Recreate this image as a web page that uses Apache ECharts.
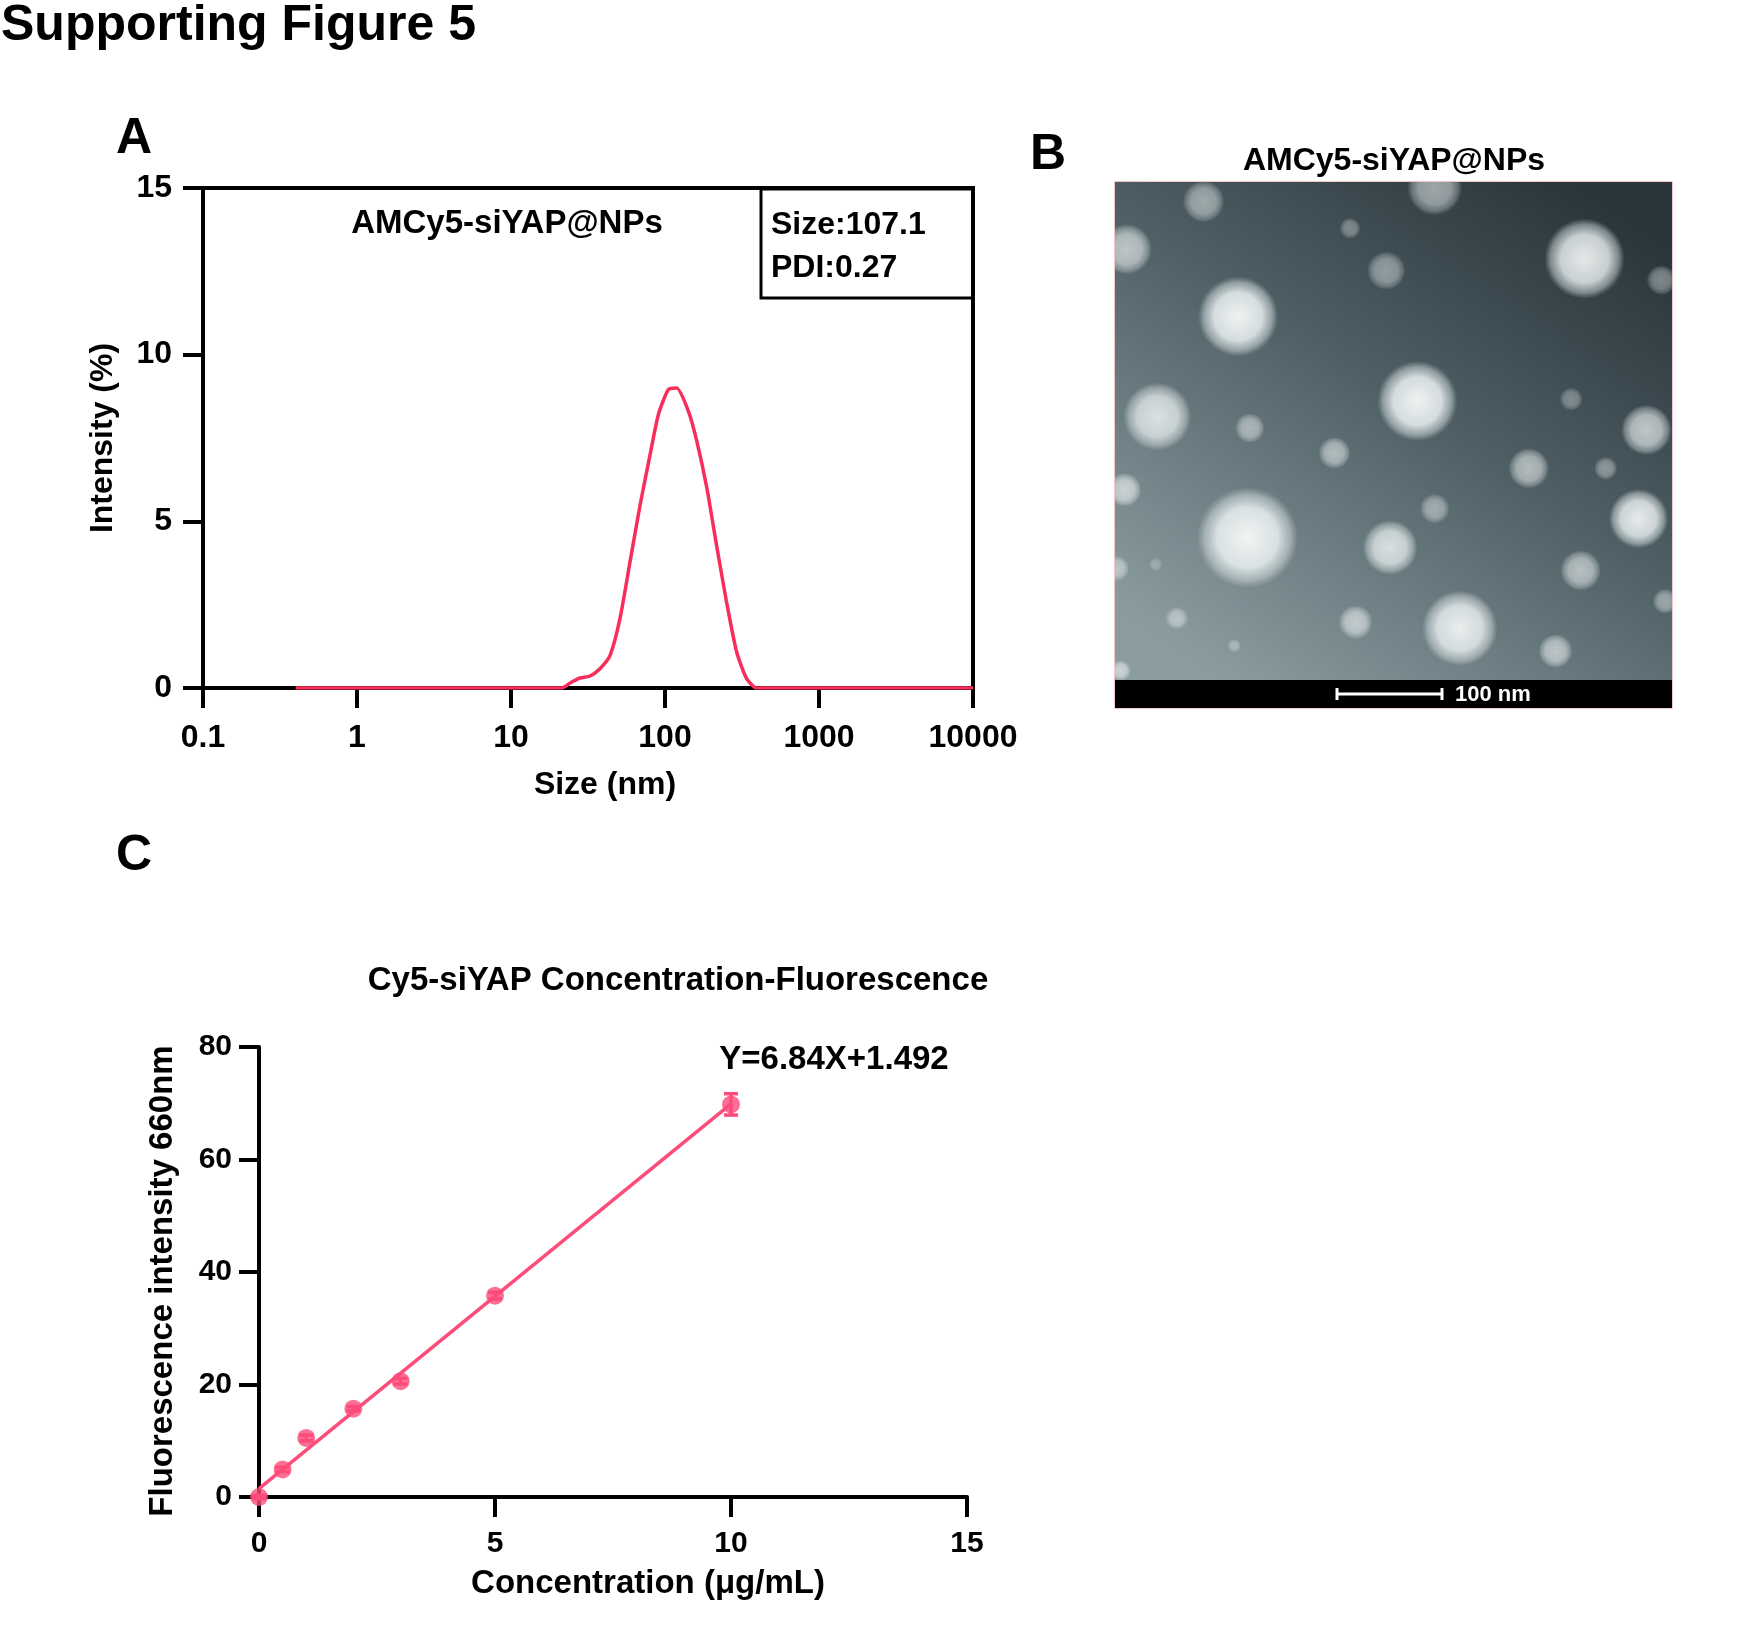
<!DOCTYPE html>
<html>
<head>
<meta charset="utf-8">
<script src="https://cdn.jsdelivr.net/npm/echarts@6/dist/echarts.min.js"></script>
<style>
  html, body { margin: 0; padding: 0; background: #fff; }
  #fig { width: 1757px; height: 1643px; }
</style>
</head>
<body>
<div id="fig"></div>
<script>
// Panel A: DLS size distribution
const sizeNm = [0.4, 1, 5, 10, 21.4, 24.8, 28.1, 32.6, 37.8, 44.0, 51.0, 59.3, 68.9, 80.0, 90.5, 105, 119, 142, 161, 187, 216, 251, 292, 339, 394, 1000, 10000];
const intensity = [0, 0, 0, 0, 0, 0.18, 0.3, 0.36, 0.58, 0.98, 2.08, 3.79, 5.49, 7.0, 8.2, 8.95, 9.0, 8.3, 7.4, 6.0, 4.29, 2.58, 1.08, 0.28, 0, 0, 0];
const sizeTickLabels = ['0.1', '1', '10', '100', '1000', '10000'];

// Panel C: standard curve
const conc = [0, 0.5, 1, 2, 3, 5, 10];
const fluor = [0, 4.9, 10.5, 15.7, 20.6, 35.8, 69.8];
const fluorSd = [0.3, 0.4, 0.5, 0.4, 0.5, 0.6, 1.9];
const fitX = [0, 10];
const fitY = [1.49, 69.89];

// Panel B: particles in the micrograph, [x %, y %, diameter px, brightness]
const particles = [
  [15.9, 3.9, 38, 0.5], [57.4, 1.2, 50, 0.55], [2.1, 13.5, 46, 0.65], [42.2, 9.3, 19, 0.35],
  [48.7, 17.8, 35, 0.45], [22.1, 27.0, 73, 0.95], [84.3, 15.4, 73, 0.9], [98.1, 19.7, 27, 0.4],
  [54.3, 44.0, 73, 0.95], [7.6, 47.1, 62, 0.8], [24.2, 49.4, 27, 0.5], [39.4, 54.4, 29, 0.55],
  [81.9, 43.6, 21, 0.35], [95.4, 49.8, 46, 0.7], [74.3, 57.5, 37, 0.6], [88.1, 57.5, 21, 0.4],
  [1.7, 61.8, 31, 0.65], [57.4, 65.6, 27, 0.45], [23.8, 71.4, 92, 0.95], [49.4, 73.4, 50, 0.8],
  [94.0, 67.6, 54, 0.9], [83.6, 78.0, 37, 0.6], [0.3, 77.6, 23, 0.5], [11.1, 87.6, 21, 0.45],
  [43.2, 88.4, 31, 0.6], [61.9, 89.6, 69, 0.9], [79.1, 94.2, 31, 0.6], [21.4, 93.1, 12, 0.35],
  [1.0, 98.1, 19, 0.6], [98.8, 84.2, 23, 0.45], [7.3, 76.8, 12, 0.25]
];

const FONT = '"Liberation Sans", Arial, sans-serif';
const RED_A = '#fa2d5a';
const RED_C = '#fc4c7a';

const chart = echarts.init(document.getElementById('fig'));

function boldText(text, x, y, size, align) {
  return {
    type: 'text', x: x, y: y,
    style: {
      text: text, font: 'bold ' + size + 'px ' + FONT, fill: '#000',
      textAlign: align || 'left', textVerticalAlign: 'middle'
    }
  };
}

const axisBase = {
  axisLine: { lineStyle: { color: '#000', width: 4 } },
  axisTick: { inside: false, length: 20, lineStyle: { color: '#000', width: 4 } },
  splitLine: { show: false },
  nameTextStyle: { color: '#000', fontSize: 32, fontWeight: 'bold', fontFamily: FONT }
};

const option = {
  animation: false,
  backgroundColor: '#fff',
  textStyle: { fontFamily: FONT },
  grid: [
    { left: 203, top: 188, width: 770, height: 500, show: true, borderColor: '#000', borderWidth: 4, backgroundColor: 'transparent' },
    { left: 259, top: 1047, width: 708, height: 450 },
    { left: 1115, top: 182, width: 557, height: 498 }
  ],
  xAxis: [
    Object.assign({}, axisBase, {
      gridIndex: 0, type: 'log', logBase: 10, min: 0.1, max: 10000,
      name: 'Size (nm)', nameLocation: 'middle', nameGap: 81,
      nameTextStyle: Object.assign({}, axisBase.nameTextStyle, { padding: [0, 0, 0, 34] }),
      axisLabel: {
        color: '#000', fontSize: 32, fontWeight: 'bold', margin: 34,
        formatter: (v, i) => sizeTickLabels[i] !== undefined ? sizeTickLabels[i] : String(v)
      }
    }),
    Object.assign({}, axisBase, {
      gridIndex: 1, type: 'value', min: 0, max: 15, interval: 5,
      name: 'Concentration (μg/mL)', nameLocation: 'middle', nameGap: 70,
      nameTextStyle: Object.assign({}, axisBase.nameTextStyle, { fontSize: 33, padding: [0, 0, 0, 70] }),
      axisLabel: { color: '#000', fontSize: 30, fontWeight: 'bold', margin: 32 }
    }),
    { gridIndex: 2, type: 'value', min: 0, max: 100, show: false }
  ],
  yAxis: [
    Object.assign({}, axisBase, {
      gridIndex: 0, type: 'value', min: 0, max: 15, interval: 5,
      name: 'Intensity (%)', nameLocation: 'middle', nameGap: 84, nameRotate: 90,
      axisLabel: { color: '#000', fontSize: 32, fontWeight: 'bold', margin: 31 }
    }),
    Object.assign({}, axisBase, {
      gridIndex: 1, type: 'value', min: 0, max: 80, interval: 20,
      name: 'Fluorescence intensity 660nm', nameLocation: 'middle', nameGap: 80, nameRotate: 90,
      nameTextStyle: Object.assign({}, axisBase.nameTextStyle, { fontSize: 33, padding: [0, 18, 0, 0] }),
      axisLabel: { color: '#000', fontSize: 30, fontWeight: 'bold', margin: 27 }
    }),
    { gridIndex: 2, type: 'value', min: 0, max: 100, inverse: true, show: false }
  ],
  series: [
    {
      name: 'DLS', type: 'line', xAxisIndex: 0, yAxisIndex: 0,
      data: sizeNm.map((s, i) => [s, intensity[i]]),
      showSymbol: false, smooth: 0.2, z: 5,
      lineStyle: { color: RED_A, width: 3.5 }
    },
    {
      name: 'fit', type: 'line', xAxisIndex: 1, yAxisIndex: 1,
      data: fitX.map((x, i) => [x, fitY[i]]),
      showSymbol: false, z: 5,
      lineStyle: { color: RED_C, width: 3.5 }
    },
    {
      name: 'sd', type: 'custom', xAxisIndex: 1, yAxisIndex: 1, z: 6,
      data: conc.map((x, i) => [x, fluor[i] - fluorSd[i], fluor[i] + fluorSd[i]]),
      renderItem: (params, api) => {
        const lo = api.coord([api.value(0), api.value(1)]);
        const hi = api.coord([api.value(0), api.value(2)]);
        const w = 7;
        const st = { stroke: RED_C, lineWidth: 3.5 };
        return {
          type: 'group', children: [
            { type: 'line', shape: { x1: lo[0], y1: lo[1], x2: hi[0], y2: hi[1] }, style: st },
            { type: 'line', shape: { x1: lo[0] - w, y1: lo[1], x2: lo[0] + w, y2: lo[1] }, style: st },
            { type: 'line', shape: { x1: hi[0] - w, y1: hi[1], x2: hi[0] + w, y2: hi[1] }, style: st }
          ]
        };
      }
    },
    {
      name: 'points', type: 'scatter', xAxisIndex: 1, yAxisIndex: 1, z: 7,
      data: conc.map((x, i) => [x, fluor[i]]),
      symbolSize: 18, clip: false,
      itemStyle: { color: RED_C }
    },
    {
      name: 'particles', type: 'custom', xAxisIndex: 2, yAxisIndex: 2, clip: true, z: 5,
      data: particles,
      renderItem: (params, api) => {
        const c = api.coord([api.value(0), api.value(1)]);
        const r = api.value(2) / 2 * 1.1;
        const b = api.value(3);
        return {
          type: 'circle',
          shape: { cx: c[0], cy: c[1], r: r },
          style: {
            fill: {
              type: 'radial', x: 0.5, y: 0.5, r: 0.5,
              colorStops: [
                { offset: 0, color: 'rgba(248,250,250,' + b + ')' },
                { offset: 0.6, color: 'rgba(232,238,238,' + (b * 0.92) + ')' },
                { offset: 0.85, color: 'rgba(205,215,217,' + (b * 0.55) + ')' },
                { offset: 1, color: 'rgba(180,195,198,0)' }
              ]
            }
          }
        };
      }
    }
  ],
  graphic: [
    boldText('Supporting Figure 5', 1, 26, 50),
    boldText('A', 116, 139, 50),
    boldText('B', 1030, 155, 50),
    boldText('C', 116, 856, 50),
    boldText('AMCy5-siYAP@NPs', 507, 224, 33, 'center'),
    boldText('Size:107.1', 771, 225, 32),
    boldText('PDI:0.27', 771, 268, 32),
    { type: 'rect', shape: { x: 761, y: 189, width: 212, height: 109 }, style: { fill: 'none', stroke: '#000', lineWidth: 3 }, z: 10 },
    boldText('AMCy5-siYAP@NPs', 1394, 161, 32, 'center'),
    boldText('Cy5-siYAP Concentration-Fluorescence', 678, 981, 33, 'center'),
    boldText('Y=6.84X+1.492', 834, 1060, 33, 'center'),
    // micrograph background, scale bar strip
    {
      type: 'rect', z: -1, shape: { x: 1115, y: 182, width: 557, height: 498 },
      style: {
        fill: {
          type: 'linear', x: 0.8, y: 0, x2: 0.2, y2: 1,
          colorStops: [
            { offset: 0, color: '#2a363c' },
            { offset: 0.45, color: '#4e5f65' },
            { offset: 1, color: '#8b9ca1' }
          ]
        }
      }
    },
    { type: 'rect', shape: { x: 1115, y: 680, width: 557, height: 28 }, style: { fill: '#000' } },
    { type: 'rect', z: 20, shape: { x: 1114.5, y: 181.5, width: 558, height: 527 }, style: { fill: 'none', stroke: '#f2c6c6', lineWidth: 1 } },
    { type: 'line', shape: { x1: 1336, y1: 694, x2: 1443, y2: 694 }, style: { stroke: '#fff', lineWidth: 3 } },
    { type: 'line', shape: { x1: 1337, y1: 688, x2: 1337, y2: 700 }, style: { stroke: '#fff', lineWidth: 3 } },
    { type: 'line', shape: { x1: 1442, y1: 688, x2: 1442, y2: 700 }, style: { stroke: '#fff', lineWidth: 3 } },
    {
      type: 'text', x: 1455, y: 695,
      style: { text: '100 nm', font: 'bold 22px ' + FONT, fill: '#fff', textAlign: 'left', textVerticalAlign: 'middle' }
    }
  ]
};

chart.setOption(option);
</script>
</body>
</html>
